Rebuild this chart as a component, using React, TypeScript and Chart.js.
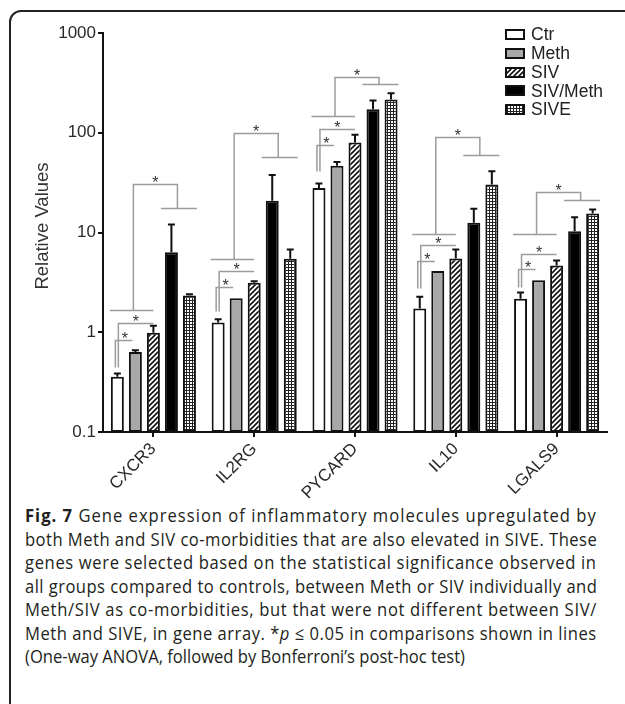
import React, { useEffect, useLayoutEffect, useRef } from 'react';
import { Chart, registerables } from 'chart.js';

Chart.register(...registerables);

// ---------- data ----------
const categories = ['CXCR3', 'IL2RG', 'PYCARD', 'IL10', 'LGALS9'];
const seriesNames = ['Ctr', 'Meth', 'SIV', 'SIV/Meth', 'SIVE'];
const yAxisTitle = 'Relative Values';

const ctrValues = [0.357, 1.25, 28, 1.73, 2.17];
const methValues = [0.635, 2.19, 46.8, 4.1, 3.33];
const sivValues = [0.99, 3.14, 80, 5.5, 4.68];
const sivMethValues = [6.35, 20.8, 172, 12.5, 10.3];
const siveValues = [2.34, 5.46, 215, 30.2, 15.5];

// top of the (upward) error bars, mean + SEM
const ctrErrTop = [0.387, 1.35, 31, 2.27, 2.5];
const methErrTop = [0.66, 2.22, 51, 4.15, 3.38];
const sivErrTop = [1.16, 3.25, 95.5, 6.76, 5.25];
const sivMethErrTop = [12.0, 37.7, 210, 17.3, 14.2];
const siveErrTop = [2.4, 6.76, 249, 41, 17];

// significance bracket levels (value units), per gene
const smallBracketBase = [0.447, 1.63, 41, 2.8, 2.86];
const smallBracketTop = [0.836, 2.84, 74.6, 5.16, 4.27];
const mediumBracketTop = [1.25, 4.1, 110, 7.46, 6.03];
const bigBracketLeftLow = [1.66, 5.37, 145.6, 9.7, 9.55];
const bigBracketTop = [30.9, 100, 360, 89.8, 25.3];
const bigBracketRightLow = [17.8, 57.5, 307, 59.3, 21];

const yTickValues = [0.1, 1, 10, 100, 1000];
const yTickLabels = ['0.1', '1', '10', '100', '1000'];

const captionLines = [
  'Gene expression of inflammatory molecules upregulated by',
  'both Meth and SIV co-morbidities that are also elevated in SIVE. These',
  'genes were selected based on the statistical significance observed in',
  'all groups compared to controls, between Meth or SIV individually and',
  'Meth/SIV as co-morbidities, but that were not different between SIV/',
  'Meth and SIVE, in gene array. ',
  '(One-way ANOVA, followed by Bonferroni\u2019s post-hoc test)',
];

const FONT = 'Arial, "Liberation Sans", sans-serif';
const CAPTION_SCALE = 0.922;
const CAPTION_WIDTH = 572;

function makePattern(kind: string): CanvasPattern | string {
  const c = document.createElement('canvas');
  const ctx = c.getContext('2d')!;
  if (kind === 'hatch') {
    c.width = 5;
    c.height = 5;
    ctx.fillStyle = '#fff';
    ctx.fillRect(0, 0, 5, 5);
    ctx.strokeStyle = '#111';
    ctx.lineWidth = 1.6;
    ctx.beginPath();
    ctx.moveTo(-1, 6);
    ctx.lineTo(6, -1);
    ctx.moveTo(-1, 1);
    ctx.lineTo(1, -1);
    ctx.moveTo(4, 6);
    ctx.lineTo(6, 4);
    ctx.stroke();
  } else {
    c.width = 3;
    c.height = 3;
    ctx.fillStyle = '#fff';
    ctx.fillRect(0, 0, 3, 3);
    ctx.fillStyle = '#222';
    ctx.fillRect(0, 0, 3, 1);
    ctx.fillRect(0, 0, 1, 3);
  }
  return ctx.createPattern(c, 'repeat')!;
}

export default function App() {
  const canvasRef = useRef<HTMLCanvasElement | null>(null);
  const lineRefs = useRef<(HTMLSpanElement | null)[]>([]);

  useLayoutEffect(() => {
    const target = CAPTION_WIDTH / CAPTION_SCALE;
    lineRefs.current.forEach((el, i) => {
      if (!el || i === captionLines.length - 1) return;
      el.style.letterSpacing = '0px';
      const w = el.offsetWidth;
      const n = (el.textContent || '').length;
      if (n > 1) el.style.letterSpacing = `${(target - w) / n}px`;
    });
  }, []);

  useEffect(() => {
    const canvas = canvasRef.current!;
    const hatch = makePattern('hatch');
    const grid = makePattern('grid');
    const fills: any[] = ['#ffffff', '#a8a8a8', hatch, '#000000', grid];
    const seriesValues = [ctrValues, methValues, sivValues, sivMethValues, siveValues];
    const errTops = [ctrErrTop, methErrTop, sivErrTop, sivMethErrTop, siveErrTop];

    const errorBars = {
      id: 'errorBars',
      afterDatasetsDraw(chart: any) {
        const ctx = chart.ctx;
        const y = chart.scales.y;
        ctx.save();
        ctx.strokeStyle = '#111';
        ctx.lineWidth = 2;
        errTops.forEach((arr, i) => {
          const meta = chart.getDatasetMeta(i);
          arr.forEach((v, j) => {
            const bar = meta.data[j];
            const yt = y.getPixelForValue(v);
            if (bar.y - yt < 1) return;
            ctx.beginPath();
            ctx.moveTo(bar.x, bar.y);
            ctx.lineTo(bar.x, yt);
            ctx.moveTo(bar.x - 3.5, yt);
            ctx.lineTo(bar.x + 3.5, yt);
            ctx.stroke();
          });
        });
        ctx.restore();
      },
    };

    const brackets = {
      id: 'brackets',
      afterDatasetsDraw(chart: any) {
        const ctx = chart.ctx;
        const ys = chart.scales.y;
        const Y = (v: number) => Math.round(ys.getPixelForValue(v)) + 0.5;
        ctx.save();
        ctx.strokeStyle = '#9c9c9c';
        ctx.lineWidth = 1.5;
        const star = (x: number, yLine: number) => {
          ctx.save();
          ctx.fillStyle = '#333';
          ctx.font = `16px ${FONT}`;
          ctx.textAlign = 'center';
          ctx.textBaseline = 'alphabetic';
          ctx.fillText('*', x, yLine + 3);
          ctx.restore();
        };
        const line = (pts: number[][]) => {
          ctx.beginPath();
          ctx.moveTo(pts[0][0], pts[0][1]);
          for (let k = 1; k < pts.length; k++) ctx.lineTo(pts[k][0], pts[k][1]);
          ctx.stroke();
        };
        categories.forEach((_, j) => {
          const m = (k: number) => chart.getDatasetMeta(k).data[j];
          const w = m(0).width;
          // small bracket Ctr vs Meth
          const xs = m(0).x - 2;
          const xsEnd = m(1).x - 3;
          const ySmall = Y(smallBracketTop[j]);
          line([[xs, Y(smallBracketBase[j])], [xs, ySmall], [xsEnd, ySmall]]);
          star((xs + xsEnd) / 2 + 1, ySmall);
          // medium bracket Ctr vs SIV
          const xm = m(0).x + 1;
          const xmEnd = m(2).x;
          const yMed = Y(mediumBracketTop[j]);
          line([[xm, Y(smallBracketBase[j])], [xm, yMed], [xmEnd, yMed]]);
          star((xm + xmEnd) / 2, yMed);
          // big bracket
          const yl = Y(bigBracketLeftLow[j]);
          const yt = Y(bigBracketTop[j]);
          const yr = Y(bigBracketRightLow[j]);
          line([[m(0).x - w / 2 - 1, yl], [m(2).x, yl]]);
          const xl = m(1).x - 2;
          const xr = (m(3).x + m(4).x) / 2 - 3;
          line([[xl, yl], [xl, yt], [xr, yt], [xr, yr]]);
          line([[m(2).x + w / 2 + 1, yr], [m(4).x + w / 2 + 1, yr]]);
          star((xl + xr) / 2, yt);
        });
        ctx.restore();
      },
    };

    const legendAndTitle = {
      id: 'customLegend',
      afterDraw(chart: any) {
        const ctx = chart.ctx;
        ctx.save();
        seriesNames.forEach((name, i) => {
          const yc = 34.5 + i * 18.75;
          const bx = 505;
          const by = Math.round(yc - 5.5);
          ctx.fillStyle = '#111';
          ctx.fillRect(bx, by, 20, 11);
          ctx.fillStyle = fills[i];
          ctx.fillRect(bx + 2, by + 2, 16, 7);
          ctx.fillStyle = '#222';
          ctx.font = `17.5px ${FONT}`;
          ctx.textAlign = 'left';
          ctx.textBaseline = 'middle';
          ctx.fillText(name, 531, yc + 1);
        });
        // y axis title
        ctx.translate(43, 226);
        ctx.rotate(-Math.PI / 2);
        ctx.fillStyle = '#333';
        ctx.font = `18.5px ${FONT}`;
        ctx.textAlign = 'center';
        ctx.textBaseline = 'middle';
        ctx.fillText(yAxisTitle, 0, 0);
        ctx.restore();
      },
    };

    const chart = new Chart(canvas, {
      type: 'bar',
      data: {
        labels: categories,
        datasets: seriesNames.map((name, i) => ({
          label: name,
          data: seriesValues[i],
          backgroundColor: fills[i],
          borderColor: '#111',
          borderWidth: 2,
          borderSkipped: false,
          categoryPercentage: 0.894,
          barPercentage: 0.72,
        })),
      },
      options: {
        responsive: false,
        animation: false,
        layout: { padding: { left: 0, right: 18, top: 33, bottom: 0 } },
        plugins: {
          legend: { display: false },
          tooltip: { enabled: false },
        },
        scales: {
          x: {
            afterFit(scale: any) {
              scale.height = 68;
            },
            grid: {
              display: true,
              offset: false,
              drawOnChartArea: false,
              drawTicks: true,
              tickLength: 5,
              color: '#111',
              lineWidth: 2,
            },
            border: { display: true, color: '#111', width: 2 },
            ticks: {
              autoSkip: false,
              minRotation: 45,
              maxRotation: 45,
              padding: 2,
              color: '#2a2a2a',
              font: { family: FONT, size: 17 },
            },
          },
          y: {
            type: 'logarithmic',
            min: 0.1,
            max: 1000,
            afterFit(scale: any) {
              scale.width = 103;
            },
            afterBuildTicks(scale: any) {
              scale.ticks = yTickValues.map((v) => ({ value: v, major: true }));
            },
            grid: {
              display: true,
              drawOnChartArea: false,
              drawTicks: true,
              tickLength: 5,
              color: '#111',
              lineWidth: 2,
            },
            border: { display: true, color: '#111', width: 2 },
            ticks: {
              padding: 2,
              color: '#2a2a2a',
              font: { family: FONT, size: 17 },
              callback: (v: any) => {
                const k = yTickValues.findIndex((t) => Math.abs(t - Number(v)) < 1e-9);
                return k >= 0 ? yTickLabels[k] : '';
              },
            },
          },
        },
      },
      plugins: [errorBars, brackets, legendAndTitle],
    } as any);

    return () => chart.destroy();
  }, []);

  return (
    <div
      style={{
        position: 'fixed',
        left: 0,
        top: 0,
        width: 625,
        height: 704,
        overflow: 'hidden',
        background: '#fff',
      }}
    >
      <div
        style={{
          position: 'absolute',
          left: 9,
          top: 10,
          width: 720,
          height: 820,
          border: '2px solid #222',
          borderRadius: 12,
          boxSizing: 'border-box',
        }}
      />
      <canvas
        ref={canvasRef}
        width={625}
        height={500}
        style={{ position: 'absolute', left: 0, top: 0, width: 625, height: 500 }}
      />
      <div
        style={{
          position: 'absolute',
          left: 25,
          top: 504,
          width: 700,
          transform: `scaleX(${CAPTION_SCALE})`,
          transformOrigin: '0 0',
          fontFamily: '"Open Sans", sans-serif',
          fontSize: 18,
          lineHeight: '23.5px',
          color: '#231f20',
        }}
      >
        {captionLines.map((t, i) => (
          <div key={i} style={{ whiteSpace: 'nowrap' }}>
            <span
              ref={(el) => {
                lineRefs.current[i] = el;
              }}
              style={{ display: 'inline-block' }}
            >
              {i === 0 && <b>Fig. 7 </b>}
              {t}
              {i === 5 && (
                <>
                  *<i>p</i> {'\u2264'} 0.05 in comparisons shown in lines
                </>
              )}
            </span>
          </div>
        ))}
      </div>
    </div>
  );
}
